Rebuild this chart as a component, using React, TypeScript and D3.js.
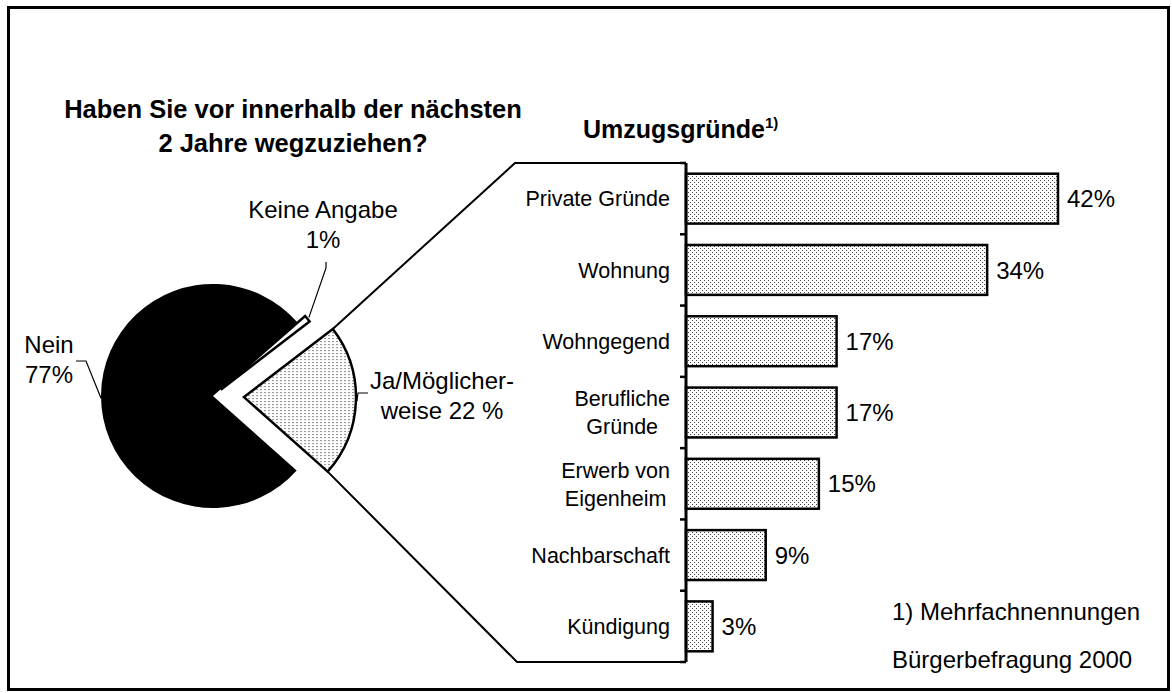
import { useEffect, useRef } from "react";
import * as d3 from "d3";

// pie: moving intention
const pieNames = ["Keine Angabe", "Ja/Möglicherweise", "Nein"];
const pieValues = [1, 22, 77];
const pieLabels = [
  ["Keine Angabe", "1%"],
  ["Ja/Möglicher-", "weise 22 %"],
  ["Nein", "77%"],
];

// bars: reasons for moving
const reasons = [
  "Private Gründe",
  "Wohnung",
  "Wohngegend",
  "Berufliche Gründe",
  "Erwerb von Eigenheim",
  "Nachbarschaft",
  "Kündigung",
];
const reasonLines = [
  ["Private Gründe"],
  ["Wohnung"],
  ["Wohngegend"],
  ["Berufliche", "Gründe"],
  ["Erwerb von", "Eigenheim"],
  ["Nachbarschaft"],
  ["Kündigung"],
];
const reasonValues = [42, 34, 17, 17, 15, 9, 3];

const titleLeft = ["Haben Sie vor innerhalb der nächsten", "2 Jahre wegzuziehen?"];
const titleRight = "Umzugsgründe";
const footnotes = ["1) Mehrfachnennungen", "Bürgerbefragung 2000"];

export default function App() {
  const ref = useRef<SVGSVGElement>(null);

  useEffect(() => {
    if (!ref.current) return;
    const w = 1172,
      h = 693;
    const font = "'Liberation Sans', Arial, sans-serif";

    const svg = d3.select(ref.current);
    svg.selectAll("*").remove();
    svg.attr("width", w).attr("height", h).attr("viewBox", `0 0 ${w} ${h}`);

    const defs = svg.append("defs");
    const dots = defs.append("pattern").attr("id", "dots").attr("width", 4).attr("height", 4).attr("patternUnits", "userSpaceOnUse");
    dots.append("rect").attr("width", 4).attr("height", 4).attr("fill", "#fff");
    dots.append("rect").attr("x", 0).attr("y", 0).attr("width", 1).attr("height", 1).attr("fill", "#444");
    dots.append("rect").attr("x", 2).attr("y", 2).attr("width", 1).attr("height", 1).attr("fill", "#444");
    const dash = defs.append("pattern").attr("id", "dash").attr("width", 4).attr("height", 3).attr("patternUnits", "userSpaceOnUse");
    dash.append("rect").attr("width", 4).attr("height", 3).attr("fill", "#fff");
    dash.append("rect").attr("x", 0).attr("y", 1).attr("width", 2).attr("height", 1).attr("fill", "#8a8a8a");

    svg.append("rect").attr("width", w).attr("height", h).attr("fill", "#fff");
    svg
      .append("rect")
      .attr("x", 8.5)
      .attr("y", 7.5)
      .attr("width", w - 12)
      .attr("height", h - 11)
      .attr("fill", "none")
      .attr("stroke", "#000")
      .attr("stroke-width", 3);

    // ---- pie
    const cx = 213,
      cy = 396,
      r = 112;
    const explode = [10, 31, 0];
    const fills = ["#fff", "url(#dash)", "#000"];
    const start = 0.853;
    const pie = d3
      .pie<number>()
      .sort(null)
      .startAngle(start)
      .endAngle(start + 2 * Math.PI);
    const arcs = pie(pieValues);
    const arc = d3.arc<d3.PieArcDatum<number>>().innerRadius(0).outerRadius(r);

    const origin = arcs.map((a, i) => {
      const m = (a.startAngle + a.endAngle) / 2;
      return [cx + Math.sin(m) * explode[i], cy - Math.cos(m) * explode[i]];
    });
    const onArc = (i: number, ang: number, rr = r) => [origin[i][0] + Math.sin(ang) * rr, origin[i][1] - Math.cos(ang) * rr];

    const pg = svg.append("g");
    arcs.forEach((a, i) => {
      pg.append("path")
        .attr("transform", `translate(${origin[i][0]},${origin[i][1]})`)
        .attr("d", arc(a))
        .attr("fill", fills[i])
        .attr("stroke", "#000")
        .attr("stroke-width", i === 2 ? 0 : 2.5)
        .attr("stroke-linejoin", "miter")
        .attr("aria-label", pieNames[i]);
    });

    // ---- bars
    const x = d3.scaleLinear().domain([0, 42]).range([686, 1058]);
    const y = d3.scaleBand().domain(reasons).range([163, 662]).paddingInner(0.3).paddingOuter(0.15);
    const [y0, y1] = y.range();
    const axisX = x(0);

    // connector from the "Ja" slice to the bar panel
    const ja = arcs[1];
    const top = onArc(1, ja.startAngle);
    const bot = onArc(1, ja.endAngle);
    const line = d3.line();
    svg
      .append("path")
      .attr("d", line([top as [number, number], [515, y0], [axisX, y0]]))
      .attr("fill", "none")
      .attr("stroke", "#000")
      .attr("stroke-width", 2);
    svg
      .append("path")
      .attr("d", line([bot as [number, number], [517, y1], [axisX, y1]]))
      .attr("fill", "none")
      .attr("stroke", "#000")
      .attr("stroke-width", 2);

    const bg = svg.append("g");
    bg.selectAll("rect")
      .data(reasons)
      .join("rect")
      .attr("x", axisX)
      .attr("y", (d) => y(d)!)
      .attr("width", (d, i) => x(reasonValues[i]) - axisX)
      .attr("height", y.bandwidth())
      .attr("fill", "url(#dots)")
      .attr("stroke", "#000")
      .attr("stroke-width", 2.5);

    svg
      .append("line")
      .attr("x1", axisX)
      .attr("x2", axisX)
      .attr("y1", y0)
      .attr("y2", y1)
      .attr("stroke", "#000")
      .attr("stroke-width", 3);
    bg.selectAll("line.tick")
      .data(d3.range(reasons.length + 1))
      .join("line")
      .attr("class", "tick")
      .attr("x1", axisX - 6)
      .attr("x2", axisX)
      .attr("y1", (k) => y0 + k * y.step())
      .attr("y2", (k) => y0 + k * y.step())
      .attr("stroke", "#000")
      .attr("stroke-width", 2.5);

    // value labels
    bg.selectAll("text.val")
      .data(reasons)
      .join("text")
      .attr("class", "val")
      .attr("x", (d, i) => x(reasonValues[i]) + 9)
      .attr("y", (d) => y(d)! + y.bandwidth() / 2)
      .attr("dy", "0.36em")
      .attr("font-family", font)
      .attr("font-size", 24)
      .text((d, i) => `${reasonValues[i]}%`);

    // category labels: right edge at labelRight, multi-line blocks centred
    const labelRight = 670;
    reasons.forEach((d, i) => {
      const lines = reasonLines[i];
      const lh = 28;
      const cyy = y(d)! + y.bandwidth() / 2;
      const t = svg
        .append("text")
        .attr("text-anchor", lines.length > 1 ? "middle" : "end")
        .attr("font-family", font)
        .attr("font-size", 21.5);
      const spans = lines.map((s, j) =>
        t
          .append("tspan")
          .attr("x", labelRight)
          .attr("y", cyy + (j - (lines.length - 1) / 2) * lh)
          .attr("dy", "0.36em")
          .text(s)
      );
      if (lines.length > 1) {
        const maxW = d3.max(spans, (sp) => (sp.node() as SVGTextContentElement).getComputedTextLength()) || 0;
        spans.forEach((sp) => sp.attr("x", labelRight - maxW / 2));
      }
    });

    // ---- titles
    const tl = svg.append("text").attr("font-family", font).attr("font-weight", "bold").attr("font-size", 25.5).attr("text-anchor", "middle");
    titleLeft.forEach((s, j) => {
      tl.append("tspan").attr("x", 293).attr("y", 118 + j * 34).text(s);
    });
    const tr = svg
      .append("text")
      .attr("font-family", font)
      .attr("font-weight", "bold")
      .attr("font-size", 25)
      .attr("x", 583)
      .attr("y", 138);
    tr.append("tspan").text(titleRight);
    tr.append("tspan").attr("font-size", 15).attr("dy", -10).text("1)");

    // ---- pie labels
    const lbl = (lines: string[], lx: number, ly: number) => {
      const t = svg.append("text").attr("font-family", font).attr("font-size", 24).attr("text-anchor", "middle");
      lines.forEach((s, j) => t.append("tspan").attr("x", lx).attr("y", ly + j * 30).text(s));
    };
    lbl(pieLabels[0], 323, 218);
    lbl(pieLabels[1], 442, 389);
    lbl(pieLabels[2], 49, 353);

    const leader = (pts: [number, number][]) =>
      svg.append("path").attr("d", line(pts)).attr("fill", "none").attr("stroke", "#000").attr("stroke-width", 1.2);
    const kMid = (arcs[0].startAngle + arcs[0].endAngle) / 2;
    leader([[326, 262], [326, 268], onArc(0, kMid, r + 2) as [number, number]]);
    const jMid = (arcs[1].startAngle + arcs[1].endAngle) / 2;
    leader([[368, 393], [358, 393], onArc(1, jMid, r + 1) as [number, number]]);
    leader([[76, 361], [86, 361], onArc(2, (3 * Math.PI) / 2 - 0.02, r) as [number, number]]);

    // ---- footnotes
    footnotes.forEach((s, j) => {
      svg.append("text").attr("font-family", font).attr("font-size", 24).attr("x", 892).attr("y", 620 + j * 48).text(s);
    });
  }, []);

  return <svg ref={ref} style={{ position: "absolute", left: 0, top: 0 }} />;
}
